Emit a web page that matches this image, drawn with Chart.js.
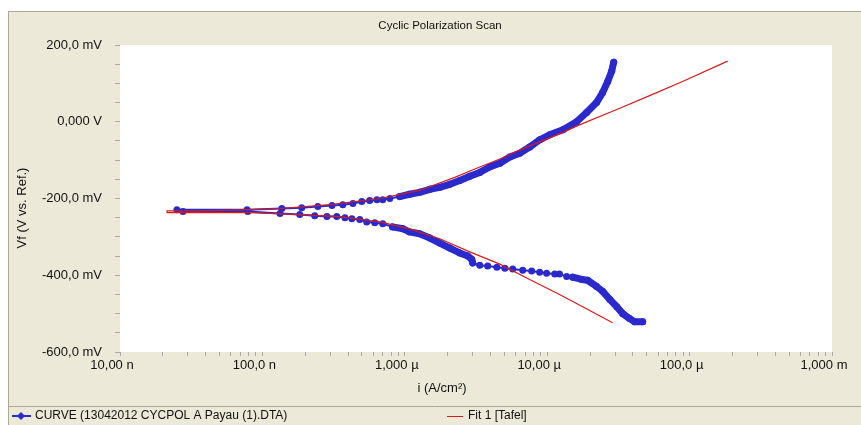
<!DOCTYPE html>
<html>
<head>
<meta charset="utf-8">
<script src="https://cdn.jsdelivr.net/npm/chart.js@4.4.0/dist/chart.umd.min.js"></script>
<style>
  html, body { margin: 0; padding: 0; background: #fff; }
</style>
</head>
<body>
<canvas id="myChart" width="861" height="425"></canvas>
<script>
// Scan data: current density (A/cm²) and potential (V)
// cathodic end first, through Ecorr, then up the anodic branch
const blueCurrent = [
    4.68e-5, 4.11e-5, 3.79e-5, 3.39e-5, 3.08e-5, 2.75e-5, 2.45e-5, 2.22e-5, 1.92e-5, 1.75e-5,
    1.51e-5, 1.37e-5, 1.22e-5, 1.13e-5, 9.9e-6, 8.85e-6, 7.78e-6, 6.73e-6, 5.73e-6, 5.04e-6,
    4.43e-6, 3.82e-6, 3.36e-6, 3.00e-6, 2.95e-6, 2.77e-6, 2.43e-6, 2.07e-6, 1.76e-6, 1.50e-6,
    1.27e-6, 1.08e-6, 9.7e-7, 8.2e-7, 7.0e-7, 6.15e-7, 5.4e-7, 4.83e-7, 4.25e-7, 3.80e-7,
    3.33e-7, 2.84e-7, 2.33e-7, 1.83e-7, 1.33e-7, 7.9e-8, 2.77e-8, 2.51e-8,
    7.8e-8, 1.37e-7, 1.89e-7, 2.45e-7, 3.08e-7, 3.67e-7, 4.32e-7, 4.99e-7, 5.67e-7, 6.37e-7,
    7.0e-7, 7.85e-7, 9.2e-7, 1.08e-6, 1.27e-6, 1.50e-6, 1.76e-6, 2.07e-6, 2.43e-6, 2.86e-6,
    3.36e-6, 3.94e-6, 4.65e-6, 5.46e-6, 6.41e-6, 7.53e-6, 8.85e-6, 1.04e-5, 1.29e-5, 1.61e-5,
    1.89e-5, 2.22e-5, 2.45e-5, 2.66e-5, 2.84e-5, 2.93e-5
];
const bluePotential = [
    -0.521, -0.521, -0.513, -0.500, -0.482, -0.463, -0.442, -0.429, -0.413, -0.411,
    -0.405, -0.403, -0.397, -0.397, -0.395, -0.392, -0.389, -0.387, -0.384, -0.382,
    -0.379, -0.376, -0.374, -0.368, -0.358, -0.350, -0.342, -0.329, -0.316, -0.303,
    -0.292, -0.287, -0.279, -0.274, -0.266, -0.263, -0.261, -0.255, -0.253, -0.250,
    -0.247, -0.247, -0.245, -0.242, -0.239, -0.234, -0.234, -0.229,
    -0.229, -0.226, -0.224, -0.221, -0.218, -0.216, -0.213, -0.208, -0.205, -0.203,
    -0.203, -0.200, -0.195, -0.189, -0.184, -0.176, -0.171, -0.163, -0.153, -0.142,
    -0.132, -0.118, -0.108, -0.092, -0.082, -0.066, -0.047, -0.034, -0.021, 0.000,
    0.024, 0.050, 0.076, 0.105, 0.132, 0.155
];

// Tafel fit: cathodic line (high to low current) then anodic line
const fitCurrent = [
    2.88e-5, 1.99e-5, 1.22e-5, 7.53e-6, 4.65e-6, 2.86e-6, 1.76e-6, 1.08e-6, 6.68e-7, 3.50e-7,
    1.83e-7, 8.17e-8, 2.14e-8,
    2.14e-8, 3.64e-8, 8.17e-8, 1.33e-7, 2.98e-7, 6.68e-7, 1.27e-6, 2.24e-6, 3.36e-6, 4.65e-6,
    7.53e-6, 1.04e-5, 1.77e-5, 3.08e-5, 5.24e-5, 8.92e-5, 1.85e-4
];
const fitPotential = [
    -0.524, -0.492, -0.450, -0.411, -0.371, -0.339, -0.305, -0.279, -0.261, -0.247,
    -0.242, -0.237, -0.237,
    -0.232, -0.232, -0.229, -0.226, -0.216, -0.200, -0.179, -0.145, -0.118, -0.097,
    -0.063, -0.042, -0.005, 0.032, 0.068, 0.105, 0.158
];

const xTickValues = [1e-8, 1e-7, 1e-6, 1e-5, 1e-4, 1e-3];
const xTickLabels = ['10,00 n', '100,0 n', '1,000 µ', '10,00 µ', '100,0 µ', '1,000 m'];
const yTickValues = [0.2, 0, -0.2, -0.4, -0.6];
const yTickLabels = ['200,0 mV', '0,000 V', '-200,0 mV', '-400,0 mV', '-600,0 mV'];

const chartTitle = 'Cyclic Polarization Scan';
const xTitle = 'i (A/cm²)';
const yTitle = 'Vf (V vs. Ref.)';
const curveLabel = 'CURVE (13042012 CYCPOL A Payau (1).DTA)';
const fitLabel = 'Fit 1 [Tafel]';

const BEIGE = '#ece9d8';
const EDGE = '#aca899';
const BLUE = '#2a2acc';
const RED = '#d41c1c';
const FONT = "'Liberation Sans', Arial, sans-serif";

function toPoints(xs, ys) {
    return xs.map((x, i) => ({ x: x, y: ys[i] }));
}

// where the scan passes its lowest current (Ecorr)
const turn = blueCurrent.indexOf(Math.min(...blueCurrent));

// dense parts of the recorded curve look like a thick band
function blueWidth(ctx) {
    const v0 = bluePotential[ctx.p0DataIndex];
    const v1 = bluePotential[ctx.p1DataIndex];
    const lo = Math.min(v0, v1), hi = Math.max(v0, v1);
    if (ctx.p0DataIndex < turn) {
        if (hi < -0.404) return 7;
        if (lo >= -0.37 && hi <= -0.272) return 7;
        return 2;
    }
    return lo >= -0.196 ? 7 : 2;
}

function matchLabel(value, values, labels) {
    const k = values.findIndex(v => Math.abs(v - value) <= Math.abs(v) * 1e-6 + 1e-9);
    return k >= 0 ? labels[k] : '';
}

const framePlugin = {
    id: 'frame',
    beforeDraw(chart) {
        const c = chart.ctx;
        const a = chart.chartArea;
        c.save();
        c.fillStyle = '#fff';
        c.fillRect(0, 0, chart.width, chart.height);
        c.fillStyle = BEIGE;
        c.fillRect(8, 11, chart.width - 8, chart.height - 11);
        c.fillStyle = '#fff';
        c.fillRect(a.left, a.top, a.right - a.left, a.bottom - a.top);
        c.strokeStyle = EDGE;
        c.lineWidth = 1;
        c.beginPath();
        c.moveTo(8, 11.5); c.lineTo(chart.width, 11.5);
        c.moveTo(8.5, 11); c.lineTo(8.5, chart.height);
        c.moveTo(8, 406.5); c.lineTo(chart.width, 406.5);
        c.stroke();
        c.restore();
    },
    afterDraw(chart) {
        const c = chart.ctx;
        c.save();
        c.fillStyle = '#111';
        c.textBaseline = 'middle';

        c.textAlign = 'center';
        c.font = '11.5px ' + FONT;
        c.fillText(chartTitle, 440, 26);

        c.font = '13px ' + FONT;
        c.fillText(xTitle, 442, 388);

        c.translate(22, 208);
        c.rotate(-Math.PI / 2);
        c.fillText(yTitle, 0, 0);
        c.setTransform(1, 0, 0, 1, 0, 0);

        // legend row
        c.strokeStyle = BLUE;
        c.lineWidth = 2;
        c.beginPath();
        c.moveTo(12, 416); c.lineTo(31, 416);
        c.stroke();
        c.fillStyle = BLUE;
        c.beginPath();
        c.moveTo(21, 412); c.lineTo(25, 416); c.lineTo(21, 420); c.lineTo(17, 416);
        c.closePath();
        c.fill();

        c.strokeStyle = RED;
        c.lineWidth = 1;
        c.beginPath();
        c.moveTo(447, 416.5); c.lineTo(463, 416.5);
        c.stroke();

        c.fillStyle = '#111';
        c.textAlign = 'left';
        c.font = '12px ' + FONT;
        c.fillText(curveLabel, 35, 416);
        c.fillText(fitLabel, 468, 416);
        c.restore();
    }
};

const ctx = document.getElementById('myChart').getContext('2d');
const chart = new Chart(ctx, {
    type: 'scatter',
    data: {
        datasets: [{
            label: curveLabel,
            data: toPoints(blueCurrent, bluePotential),
            showLine: true,
            borderColor: BLUE,
            backgroundColor: BLUE,
            borderWidth: 2,
            borderCapStyle: 'round',
            borderJoinStyle: 'round',
            pointRadius: 3.5,
            pointBorderWidth: 0,
            pointBackgroundColor: BLUE,
            segment: { borderWidth: blueWidth, borderCapStyle: 'round', borderJoinStyle: 'round' },
            order: 2
        }, {
            label: fitLabel,
            data: toPoints(fitCurrent, fitPotential),
            showLine: true,
            borderColor: RED,
            borderWidth: 1.2,
            pointRadius: 0,
            order: 1
        }]
    },
    options: {
        responsive: false,
        animation: false,
        layout: { padding: { left: 8, right: 29, top: 45, bottom: 19 } },
        plugins: {
            legend: { display: false },
            title: { display: false },
            tooltip: { enabled: false }
        },
        scales: {
            x: {
                type: 'logarithmic',
                position: 'bottom',
                min: 1e-8,
                max: 1e-3,
                afterBuildTicks: (scale) => {
                    const t = [];
                    for (let e = -8; e <= -3; e++) {
                        for (let m = 1; m <= 9; m++) {
                            const v = Number((m * Math.pow(10, e)).toPrecision(3));
                            if (v <= 1e-3 * 1.0001) t.push({ value: v });
                        }
                    }
                    scale.ticks = t;
                },
                afterFit: (scale) => { scale.height = 54; },
                ticks: {
                    autoSkip: false,
                    maxRotation: 0,
                    minRotation: 0,
                    labelOffset: -8,
                    padding: 2,
                    color: '#111',
                    font: { family: FONT, size: 13 },
                    callback: (value) => matchLabel(value, xTickValues, xTickLabels)
                },
                grid: { drawOnChartArea: false, drawTicks: true, tickLength: 4, color: '#a8a8a8' },
                border: { display: false }
            },
            y: {
                type: 'linear',
                min: -0.6,
                max: 0.2,
                afterBuildTicks: (scale) => {
                    const t = [];
                    for (let k = -12; k <= 4; k++) t.push({ value: k / 20 });
                    scale.ticks = t;
                },
                afterFit: (scale) => { scale.width = 112; },
                ticks: {
                    autoSkip: false,
                    padding: 13,
                    color: '#111',
                    font: { family: FONT, size: 13 },
                    callback: (value) => matchLabel(value, yTickValues, yTickLabels)
                },
                grid: { drawOnChartArea: false, drawTicks: true, tickLength: 5, color: '#a8a8a8' },
                border: { display: false }
            }
        }
    },
    plugins: [framePlugin]
});
</script>
</body>
</html>
